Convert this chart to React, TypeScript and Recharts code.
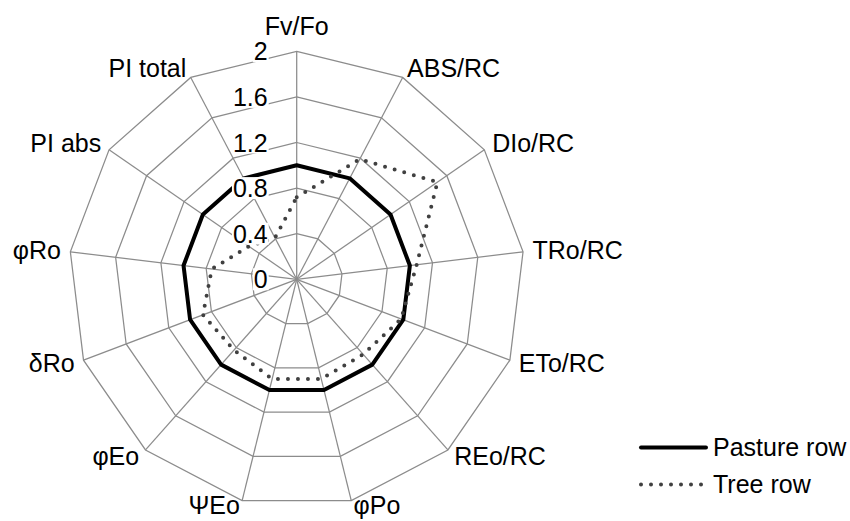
import {
  Legend,
  PolarAngleAxis,
  PolarGrid,
  PolarRadiusAxis,
  Radar,
  RadarChart,
} from "recharts";

const AXES = [
  "Fv/Fo",
  "ABS/RC",
  "DIo/RC",
  "TRo/RC",
  "ETo/RC",
  "REo/RC",
  "φPo",
  "ΨEo",
  "φEo",
  "δRo",
  "φRo",
  "PI abs",
  "PI total",
];

const PASTURE_ROW = [1, 1, 1, 1, 1, 1, 1, 1, 1, 1, 1, 1, 1];
const TREE_ROW = [0.72, 1.19, 1.5, 1.06, 0.98, 0.88, 0.9, 0.9, 0.83, 0.88, 0.75, 0.51, 0.41];
const RADIUS_TICKS = [0, 0.4, 0.8, 1.2, 1.6, 2];

const data = AXES.map((name, i) => ({
  name,
  pasture: PASTURE_ROW[i],
  tree: TREE_ROW[i],
}));

const CX = 296.7;
const CY = 279.3;
const R = 228;
const FONT = "'Liberation Sans', Arial, sans-serif";
const GRID = "#8c8c8c";

// category labels sit just outside each outer vertex
const AngleTick = (props: any) => {
  const a = (props.payload.coordinate * Math.PI) / 180;
  const cos = Math.cos(a);
  const sin = Math.sin(a);
  const vx = CX + R * cos;
  const vy = CY - R * sin;
  const middle = Math.abs(cos) < 0.05;
  const anchor = middle ? "middle" : cos > 0 ? "start" : "end";
  const x = vx + 9.5 * cos;
  const y = middle ? vy - 16 : Math.min(vy - 10 * sin + 8, 514);
  return (
    <text x={x} y={y} textAnchor={anchor} fontFamily={FONT} fontSize={25} fill="#000">
      {props.payload.value}
    </text>
  );
};

// value labels left of the vertical axis, on a white box
const RadiusTick = (props: any) => {
  const label = String(props.payload.value);
  const w = [...label].reduce((s, c) => s + (c === "." ? 6.95 : 13.9), 0);
  const right = props.x - 29;
  return (
    <g>
      <rect x={right - w - 1} y={props.y - 11} width={w + 2} height={22} fill="#fff" />
      <text x={right} y={props.y + 9} textAnchor="end" fontFamily={FONT} fontSize={25} fill="#000">
        {label}
      </text>
    </g>
  );
};

const renderLegend = () => (
  <div style={{ fontFamily: FONT, fontSize: 25, color: "#000" }}>
    {[
      { name: "Pasture row", dash: undefined, color: "#000", width: 4 },
      { name: "Tree row", dash: "0 10", color: "#404040", width: 4 },
    ].map((s) => (
      <div key={s.name} style={{ display: "flex", alignItems: "center", height: 37, lineHeight: "37px" }}>
        <svg width={70} height={37} style={{ display: "block" }}>
          <line
            x1={3}
            x2={68}
            y1={18.5}
            y2={18.5}
            stroke={s.color}
            strokeWidth={s.width}
            strokeDasharray={s.dash}
            strokeLinecap="round"
          />
        </svg>
        <span style={{ marginLeft: 5 }}>{s.name}</span>
      </div>
    ))}
  </div>
);

export default function App() {
  return (
    <div style={{ position: "absolute", left: 0, top: 0, width: 850, height: 521, background: "#fff" }}>
      <RadarChart
        width={850}
        height={521}
        data={data}
        cx={CX}
        cy={CY}
        outerRadius={R}
        margin={{ top: 0, right: 0, bottom: 0, left: 0 }}
      >
        <PolarGrid gridType="polygon" stroke={GRID} strokeWidth={1.25} />
        <PolarAngleAxis dataKey="name" tick={AngleTick} tickLine={false} axisLine={false} />
        <Radar
          name="Pasture row"
          dataKey="pasture"
          stroke="#000"
          strokeWidth={4}
          strokeLinejoin="round"
          fill="none"
          fillOpacity={0}
          dot={false}
          isAnimationActive={false}
        />
        <Radar
          name="Tree row"
          dataKey="tree"
          stroke="#404040"
          strokeWidth={4}
          strokeDasharray="0 10"
          strokeLinecap="round"
          fill="none"
          fillOpacity={0}
          dot={false}
          isAnimationActive={false}
        />
        <PolarRadiusAxis
          angle={90}
          domain={[0, 2]}
          tickCount={6}
          ticks={RADIUS_TICKS as any}
          axisLine={false}
          tickLine={false}
          tick={RadiusTick}
        />
        <Legend
          content={renderLegend}
          wrapperStyle={{ position: "absolute", left: 638, top: 429, width: 212 }}
        />
      </RadarChart>
    </div>
  );
}
